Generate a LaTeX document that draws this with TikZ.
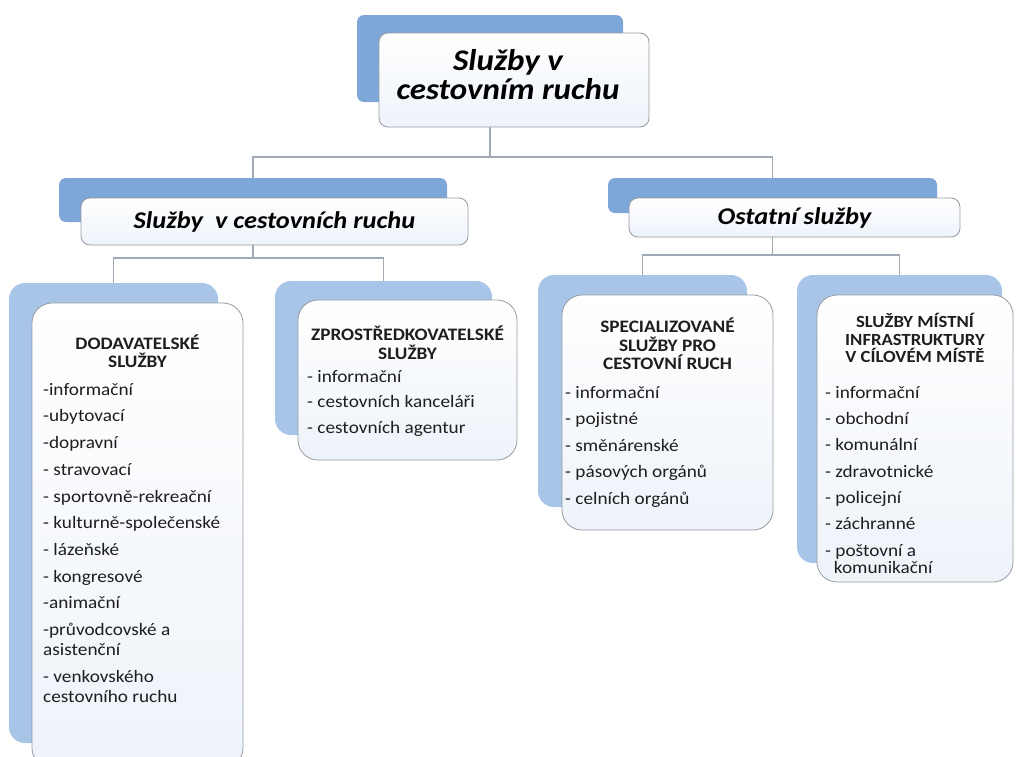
\documentclass[tikz,border=0pt]{standalone}
\usepackage{fontspec}
\setmainfont{Carlito}[FakeStretch=1.1]
\usetikzlibrary{backgrounds}
\definecolor{topblue}{RGB}{125,167,216}
\definecolor{lowblue}{RGB}{168,197,232}
\definecolor{edgegray}{RGB}{150,155,162}
\definecolor{linkgray}{RGB}{160,170,182}
\definecolor{ink}{RGB}{30,30,30}
\definecolor{paleblue}{RGB}{238,243,250}
\tikzset{
  backtop/.style={fill=topblue, draw=none, rounded corners=7pt, inner sep=0pt},
  backlow/.style={fill=lowblue, draw=none, rounded corners=16pt, inner sep=0pt},
  fronttop/.style={draw=edgegray, line width=0.8pt, top color=white, bottom color=paleblue, rounded corners=9pt, inner sep=0pt},
  frontlow/.style={draw=edgegray, line width=0.8pt, top color=white, bottom color=paleblue, rounded corners=20pt, inner sep=0pt},
  link/.style={draw=linkgray, line width=1.1pt},
  bigtitle/.style={font=\fontsize{30}{29}\selectfont\bfseries\itshape, align=center, inner sep=0pt},
  midtitle/.style={font=\fontsize{24}{25}\selectfont\bfseries\itshape, align=center, inner sep=0pt},
  lowtitle/.style={font=\fontsize{17.5}{18.5}\selectfont\bfseries, text=ink, align=center, inner sep=0pt},
  itemlist/.style={font=\fontsize{17.5}{20}\selectfont, text=ink, align=left, inner sep=0pt, anchor=north west}
}
\begin{document}
\begin{tikzpicture}[x=1pt,y=-1pt]
\useasboundingbox (0,0) rectangle (1018,756);
\clip (0,0) rectangle (1018,756);
% level 0
\node[backtop, minimum width=266pt, minimum height=87pt] (b0) at (490,58.5) {};
\node[fronttop, minimum width=270pt, minimum height=94pt] (w0) at (514,80) {};
\node[bigtitle] (t0) at (508,75) {Služby v\\cestovním ruchu};
% level 1
\node[backtop, minimum width=388pt, minimum height=44pt] (b1) at (253,200) {};
\node[fronttop, minimum width=387pt, minimum height=47pt] (w1) at (274.5,221.5) {};
\node[midtitle] (t1) at (274.5,222) {Služby\ \ v cestovních ruchu};
\node[backtop, minimum width=329pt, minimum height=35pt] (b2) at (772.5,195.5) {};
\node[fronttop, minimum width=331pt, minimum height=39pt] (w2) at (794.5,217.5) {};
\node[midtitle] (t2) at (794.5,218) {Ostatní služby};
% level 2
\node[backlow, minimum width=209pt, minimum height=460pt] (b3) at (113.5,513) {};
\node[frontlow, minimum width=211pt, minimum height=465pt] (w3) at (137.5,535.5) {};
\node[lowtitle] (h3) at (137.5,351) {DODAVATELSKÉ\\SLUŽBY};
\node[itemlist] (i3) at (43,383) {-informační\\[6.7pt]-ubytovací\\[6.7pt]-dopravní\\[6.7pt]- stravovací\\[6.7pt]- sportovně-rekreační\\[6.7pt]- kulturně-společenské\\[6.7pt]- lázeňské\\[6.7pt]- kongresové\\[6.7pt]-animační\\[6.7pt]-průvodcovské a\\asistenční\\[6.7pt]- venkovského\\cestovního ruchu};

\node[backlow, minimum width=217pt, minimum height=154pt] (b4) at (383.5,358) {};
\node[frontlow, minimum width=219pt, minimum height=160pt] (w4) at (407.5,380) {};
\node[lowtitle] (h4) at (407.5,342.5) {ZPROSTŘEDKOVATELSKÉ\\SLUŽBY};
\node[itemlist] (i4) at (307,370) {- informační\\[5.5pt]- cestovních kanceláři\\[5.5pt]- cestovních agentur};

\node[backlow, minimum width=209pt, minimum height=232pt] (b5) at (642.5,391) {};
\node[frontlow, minimum width=211pt, minimum height=235pt] (w5) at (667.5,412.5) {};
\node[lowtitle] (h5) at (667.5,344) {SPECIALIZOVANÉ\\SLUŽBY PRO\\CESTOVNÍ RUCH};
\node[itemlist] (i5) at (565,386) {- informační\\[6.5pt]- pojistné\\[6.5pt]- směnárenské\\[6.5pt]- pásových orgánů\\[6.5pt]- celních orgánů};

\node[backlow, minimum width=205pt, minimum height=288pt] (b6) at (899.5,419) {};
\node[frontlow, minimum width=196pt, minimum height=287pt] (w6) at (915,438.5) {};
\node[lowtitle, font=\fontsize{17}{17.5}\selectfont\bfseries] (h6) at (915,338) {SLUŽBY MÍSTNÍ\\INFRASTRUKTURY\\V CÍLOVÉM MÍSTĚ};
\node[itemlist] (i6) at (825,386) {- informační\\[6.3pt]- obchodní\\[6.3pt]- komunální\\[6.3pt]- zdravotnické\\[6.3pt]- policejní\\[6.3pt]- záchranné\\[6.3pt]- poštovní a\\[-3pt]\ \ komunikační};
% connectors
\coordinate (j0) at (490,157);
\coordinate (j1) at (253,258);
\coordinate (j2) at (772.5,255);
\begin{pgfonlayer}{background}
\draw[link] (b0.center) -- (j0);
\draw[link] (b1.center) |- (j0) -| (b2.center);
\draw[link] (b1.center) -- (j1);
\draw[link] (b3.center) |- (j1) -| (b4.center);
\draw[link] (b2.center) -- (j2);
\draw[link] (b5.center) |- (j2) -| (b6.center);
\end{pgfonlayer}
\end{tikzpicture}
\end{document}
